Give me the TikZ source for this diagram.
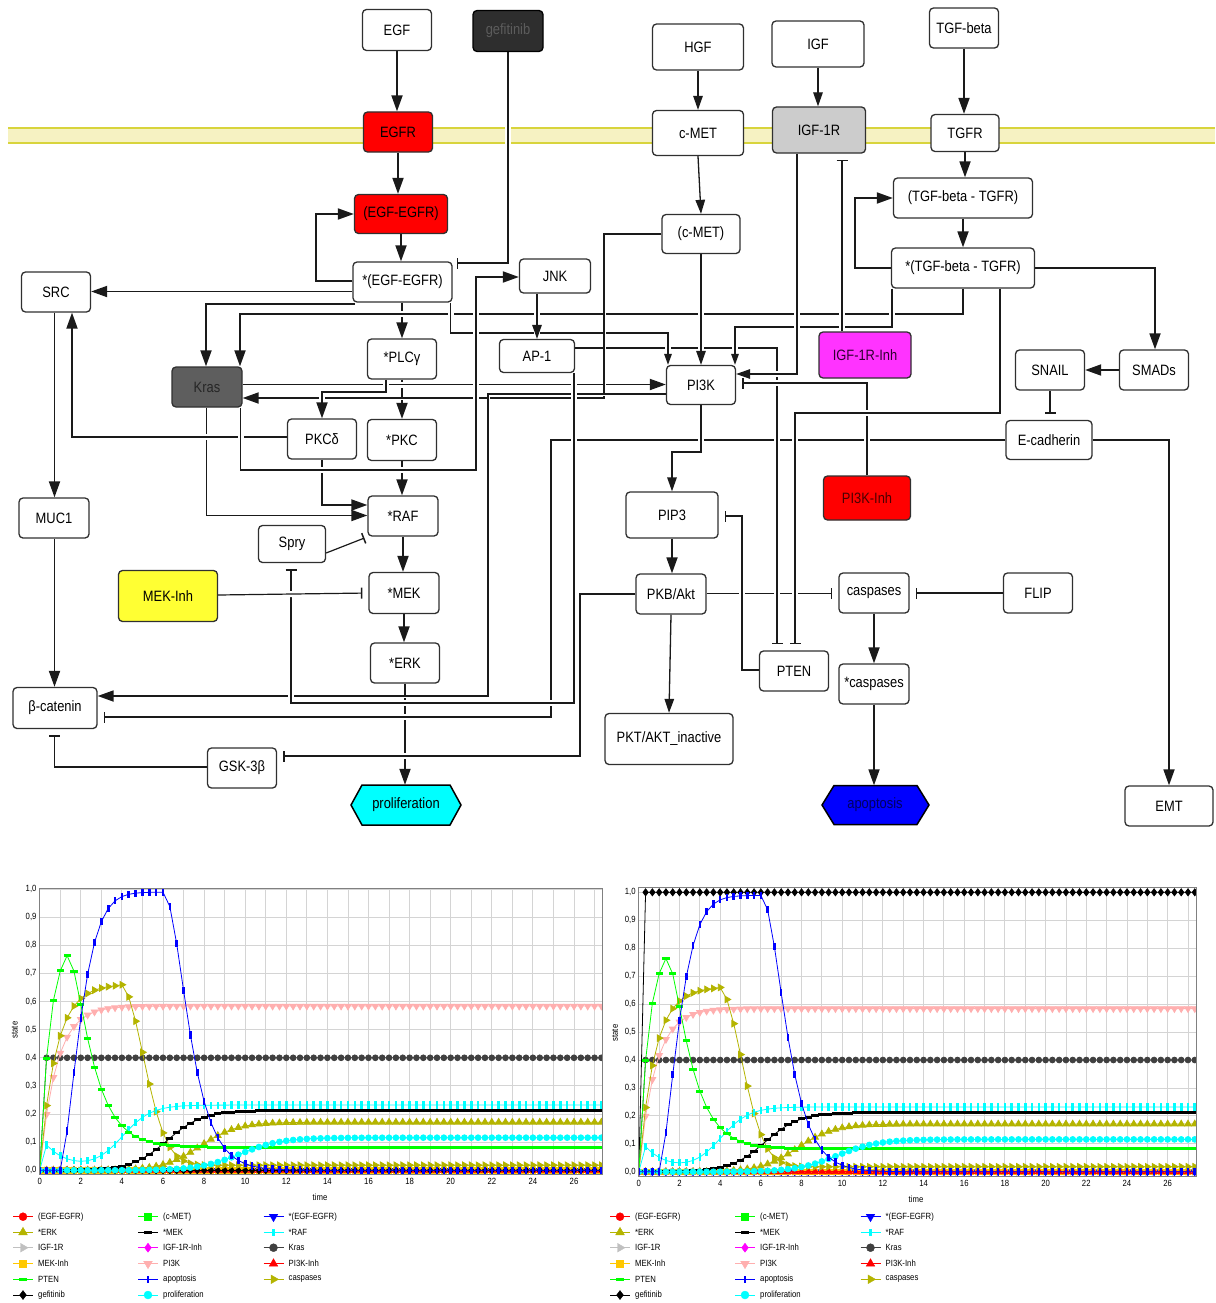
\documentclass[tikz,border=0pt]{standalone}
\usepackage{fontspec}
\setmainfont{Liberation Sans}[FakeStretch=0.86]
\usetikzlibrary{arrows.meta,plotmarks}
\pgfdeclarelayer{bg}
\pgfdeclarelayer{edges}
\pgfsetlayers{bg,edges,main}

% network colours
\definecolor{edgecol}{HTML}{1A1A1A}
\definecolor{boxline}{HTML}{303030}
\definecolor{memfill}{HTML}{F6F2C2}
\definecolor{memline}{HTML}{D8D43C}
\definecolor{gefifill}{HTML}{2E2E2E}
\definecolor{gefitext}{HTML}{5C5C5C}
\definecolor{krasfill}{HTML}{5E5E5E}
\definecolor{krastext}{HTML}{262626}
\definecolor{igffill}{HTML}{CCCCCC}
\definecolor{maginh}{HTML}{FF33FF}
\definecolor{magtext}{HTML}{300030}
\definecolor{yelinh}{HTML}{FFFF33}
\definecolor{redbox}{HTML}{FF0000}
\definecolor{redtext}{HTML}{4A0000}
\definecolor{cyanhex}{HTML}{00FFFF}
\definecolor{bluehex}{HTML}{0000FF}
\definecolor{bluetext}{HTML}{000060}
% chart colours
\definecolor{sred}{HTML}{FF0000}
\definecolor{sgreen}{HTML}{00FF00}
\definecolor{sblue}{HTML}{0000FF}
\definecolor{solive}{HTML}{B4B400}
\definecolor{sblack}{HTML}{000000}
\definecolor{scyan}{HTML}{00FFFF}
\definecolor{sgray}{HTML}{C0C0C0}
\definecolor{smag}{HTML}{FF00FF}
\definecolor{sdark}{HTML}{404040}
\definecolor{sorange}{HTML}{FFC800}
\definecolor{spink}{HTML}{FFAFAF}
\definecolor{gridcol}{HTML}{D4D4D4}
\definecolor{framecol}{HTML}{808080}

\pgfdeclareplotmark{hbar}{\pgfpathrectangle{\pgfpoint{-3.6pt}{-1.5pt}}{\pgfpoint{7.2pt}{3pt}}\pgfusepathqfill}
\pgfdeclareplotmark{vbar}{\pgfpathrectangle{\pgfpoint{-1.3pt}{-3.6pt}}{\pgfpoint{2.6pt}{7.2pt}}\pgfusepathqfill}

\newcommand\nodefont{\fontsize{15}{17}\selectfont}
\newcommand\plotfont{\fontsize{9}{10}\selectfont}
\newcommand\halow{6pt}

\tikzset{
  box/.style={draw=boxline, line width=1.3pt, rounded corners=4pt, fill=white,
    inner sep=1pt, font=\nodefont, text=black},
  sz/.style 2 args={minimum width=#1pt, minimum height=#2pt},
  hexlabel/.style={inner sep=0pt, font=\nodefont},
  link/.style={draw=edgecol, line width=1.8pt,
    preaction={draw=white, line width=\halow, -}},
  act/.style={link, -{Triangle[length=16pt,width=11pt]}},
  actm/.style={link, line width=1.3pt, -{Triangle[length=14pt,width=9.5pt]}},
  acts/.style={link, line width=1.4pt, -{Triangle[length=11pt,width=7.5pt]}},
  inh/.style={link, line width=1.5pt, -{Bar[width=11pt,line width=1.5pt]}, shorten >=6pt},
  datacurve/.style={line width=0.8pt, mark size=2.9pt},
  tri/.style={mark=triangle*, mark size=3.8pt},
  ticklab/.style={font=\plotfont, inner sep=0pt, text=black},
}

% one time series of the simulation, sampled every 1/3 time unit
\newcommand\drawseries[3]{%
  \draw[datacurve, color=#1, #2, samples at={0,0.33333,...,27.34}]
    plot[variable=\t] (\t,{#3});}

\newcommand\allcurves[1]{%
  \drawseries{sgray}{tri, mark options={rotate=-90}}{0}%
  \drawseries{smag}{mark=diamond*, mark size=3.5pt}{0}%
  \drawseries{sgreen}{mark=square*, mark size=2.8pt}{0}%
  \drawseries{sred}{mark=*}{0}%
  \drawseries{sblue}{tri, mark options={rotate=180}}{0}%
  \drawseries{sorange}{mark=square*, mark size=2.8pt}{0}%
  \drawseries{sred}{tri}{0}%
  \drawseries{sblack}{mark=diamond*, mark size=3.5pt}{#1}%
  \drawseries{sdark}{mark=*}{0.4*min(1,3*\t)}%
  \drawseries{spink}{tri, mark options={rotate=180}}{0.584*(1-dcy(\t/0.8))}%
  \drawseries{solive}{tri, mark options={rotate=-90}}%
    {ifthenelse(\t<3.8, 0.662*(1-dcy(\t/0.78)), 0.018+0.644*dcy(((\t-3.9)/1.6)^2))}%
  \drawseries{solive}{tri}{0.171*sgm((\t-7.8)/0.9)}%
  \drawseries{sblack}{mark=hbar}{0.212*sgm((\t-6.2)/0.85)}%
  \drawseries{scyan}{mark=vbar}{0.12*dcy(\t/1.1)*min(1,3*\t)+0.232*sgm((\t-4)/0.7)}%
  \drawseries{sgreen}{mark=hbar}%
    {ifthenelse(\t<1.3, 0.763*(1-dcy(\t/0.5))/0.9305, 0.082+0.681*hdec(\t-1.33333,1.05,0.657))}%
  \drawseries{scyan}{mark=*}{0.116*sgm(\t-9.75)}%
  \drawseries{sblue}{mark=vbar}%
    {ifthenelse(\t<6, 0.989*(1-dcy(pow(max(\t-1,0.001),1.5)/1.26)), 0.989*hdec(\t-6,1.3,1.326))}%
}

% chart frame, grid, tick labels and curves
% #1,#2 origin; #3,#4 units; #5,#6 bottom/top of frame; #7 name prefix; #8 gefitinib level
\newcommand\panel[8]{%
  \begin{scope}[shift={(#1,#2)}, x=#3pt, y=#4pt]
    \fill[white] (0,#5) rectangle (27.4,#6);
    \draw[gridcol, line width=0.9pt]
      \foreach \k in {1,...,27} {(\k,#5) -- (\k,#6)}
      \foreach \k in {0,...,10} {(0,\k/10) -- (27.4,\k/10)};
    \begin{scope}
      \clip (0,#5) rectangle (27.4,#6);
      \allcurves{#8}
    \end{scope}
    \draw[framecol, line width=0.9pt] (0,#5) rectangle (27.4,#6);
    \foreach \k in {0,...,9}
      \node[ticklab, anchor=east] (#7y\k) at ([xshift=-3pt]0,\k/10) {0,\k};
    \node[ticklab, anchor=east] (#7y10) at ([xshift=-3pt]0,1) {1,0};
    \foreach \k in {0,2,...,26}
      \node[ticklab, anchor=north] (#7x\k) at ([yshift=-4pt]\k,#5) {\k};
  \end{scope}}

% one legend entry: name, x, y, colour, marker keys, text
\newcommand\legitem[6]{%
  \draw[color=#4, line width=0.9pt] (#2-10,#3) -- (#2+10,#3);
  \path[color=#4, mark size=4pt, #5] plot coordinates {(#2,#3)};
  \node[anchor=west, font=\plotfont, inner sep=0pt] (#1) at (#2+15,#3) {#6};}

\newcommand\legendblock[2]{%
  \legitem{#2a}{23+#1}{1216.7}{sred}{mark=*}{(EGF-EGFR)}
  \legitem{#2b}{148+#1}{1216.7}{sgreen}{mark=square*, mark size=3.6pt}{(c-MET)}
  \legitem{#2c}{273.5+#1}{1216.7}{sblue}{mark=triangle*, mark size=5pt, mark options={rotate=180}}{*(EGF-EGFR)}
  \legitem{#2d}{23+#1}{1232.3}{solive}{mark=triangle*, mark size=5pt}{*ERK}
  \legitem{#2e}{148+#1}{1232.3}{sblack}{mark=hbar}{*MEK}
  \legitem{#2f}{273.5+#1}{1232.3}{scyan}{mark=vbar}{*RAF}
  \legitem{#2g}{23+#1}{1247.7}{sgray}{mark=triangle*, mark size=5pt, mark options={rotate=-90}}{IGF-1R}
  \legitem{#2h}{148+#1}{1247.7}{smag}{mark=diamond*, mark size=4.5pt}{IGF-1R-Inh}
  \legitem{#2i}{273.5+#1}{1247.7}{sdark}{mark=*}{Kras}
  \legitem{#2j}{23+#1}{1263.7}{sorange}{mark=square*, mark size=3.6pt}{MEK-Inh}
  \legitem{#2k}{148+#1}{1263.7}{spink}{mark=triangle*, mark size=5pt, mark options={rotate=180}}{PI3K}
  \legitem{#2l}{273.5+#1}{1263.7}{sred}{mark=triangle*, mark size=5pt}{PI3K-Inh}
  \legitem{#2m}{23+#1}{1279.3}{sgreen}{mark=hbar}{PTEN}
  \legitem{#2n}{148+#1}{1279.3}{sblue}{mark=vbar}{apoptosis}
  \legitem{#2o}{273.5+#1}{1279.3}{solive}{mark=triangle*, mark size=5pt, mark options={rotate=-90}}{caspases}
  \legitem{#2p}{23+#1}{1295}{sblack}{mark=diamond*, mark size=4.5pt}{gefitinib}
  \legitem{#2q}{148+#1}{1295}{scyan}{mark=*}{proliferation}}

\begin{document}
\begin{tikzpicture}[x=1pt, y=-1pt,
  declare function={
    sgm(\zz)=1/(1+exp(-max(-9,min(9,\zz))));
    dcy(\zz)=exp(-max(0,min(9,\zz)));
    hdec(\hd,\ha,\hb)=dcy(\ha*(sqrt(\hb*\hb+\hd*\hd)-\hb));
  }]
\useasboundingbox (0,0) rectangle (1215,1303);

\begin{pgfonlayer}{bg}
  \fill[white] (0,0) rectangle (1215,1303);
  % cell membrane
  \fill[memfill] (8,128) rectangle (1215,143);
  \draw[memline, line width=2.4pt] (8,128) -- (1215,128) (8,143) -- (1215,143);
\end{pgfonlayer}

% ---------- signalling network: species ----------
\node[box, sz={69}{41}] (EGF) at (397,30) {EGF};
\node[box, sz={70}{41}, fill=gefifill, draw=black, text=gefitext] (gefi) at (508,31) {gefitinib};
\node[box, sz={69}{40}, fill=redbox] (EGFR) at (398,132) {EGFR};
\node[box, sz={93}{39}, fill=redbox] (EE) at (401,214) {(EGF-EGFR)};
\node[box, sz={99}{40}] (sEE) at (402.5,282) {*(EGF-EGFR)};
\node[box, sz={69}{40}] (SRC) at (56,292) {SRC};
\node[box, sz={71}{34}] (JNK) at (555,276) {JNK};
\node[box, sz={75}{33}] (AP1) at (537,356) {AP-1};
\node[box, sz={69}{40}] (PLC) at (402,359) {*PLCγ};
\node[box, sz={70}{40}, fill=krasfill, text=krastext] (Kras) at (207,387) {Kras};
\node[box, sz={69}{40}] (PKCd) at (322,439) {PKCδ};
\node[box, sz={69}{41}] (PKC) at (402,440) {*PKC};
\node[box, sz={70}{40}] (RAF) at (403,516) {*RAF};
\node[box, sz={67}{37}] (Spry) at (292,544) {Spry};
\node[box, sz={99}{51}, fill=yelinh] (MEKi) at (168,596) {MEK-Inh};
\node[box, sz={70}{41}] (MEK) at (404,593) {*MEK};
\node[box, sz={69}{40}] (ERK) at (405,663) {*ERK};
\node[box, sz={70}{40}] (MUC1) at (54,518) {MUC1};
\node[box, sz={84}{41}] (bcat) at (55,708) {β-catenin};
\node[box, sz={69}{40}] (GSK) at (242,768) {GSK-3β};
\node[box, sz={91}{46}] (HGF) at (698,47) {HGF};
\node[box, sz={92}{46}] (IGF) at (818,44) {IGF};
\node[box, sz={69}{40}] (TGFb) at (964,28) {TGF-beta};
\node[box, sz={91}{45}] (cMET) at (698,133) {c-MET};
\node[box, sz={93}{46}, fill=igffill] (IGF1R) at (819,130) {IGF-1R};
\node[box, sz={68}{37}] (TGFR) at (965,133) {TGFR};
\node[box, sz={139}{40}] (TT) at (963,198) {(TGF-beta - TGFR)};
\node[box, sz={143}{40}] (sTT) at (963,268) {*(TGF-beta - TGFR)};
\node[box, sz={78}{39}] (cMETc) at (701,234) {(c-MET)};
\node[box, sz={69}{39}] (PI3K) at (701,385) {PI3K};
\node[box, sz={92}{46}, fill=maginh, text=magtext] (IGFi) at (865,355) {IGF-1R-Inh};
\node[box, sz={69}{40}] (SNAIL) at (1050,370) {SNAIL};
\node[box, sz={69}{40}] (SMAD) at (1154,370) {SMADs};
\node[box, sz={86}{39}] (Ecad) at (1049,440) {E-cadherin};
\node[box, sz={87}{44}, fill=redbox, text=redtext] (PI3Ki) at (867,498) {PI3K-Inh};
\node[box, sz={92}{46}] (PIP3) at (672,515) {PIP3};
\node[box, sz={70}{40}] (PKB) at (671,594) {PKB/Akt};
\node[box, sz={70}{40}] (casp) at (874,593) {caspases};
\node[box, sz={69}{40}] (FLIP) at (1038,593) {FLIP};
\node[box, sz={69}{40}] (PTEN) at (794,671) {PTEN};
\node[box, sz={70}{40}] (scasp) at (874,684) {*caspases};
\node[box, sz={128}{51}] (PKTi) at (669,739) {PKT/AKT\_inactive};
\node[box, sz={88}{40}] (EMT) at (1169,806) {EMT};
% phenotype outputs (hexagons)
\filldraw[fill=cyanhex, draw=black, line width=1.5pt]
  (351,805) -- (362,785) -- (450,785) -- (461,805) -- (450,825) -- (362,825) -- cycle;
\node[hexlabel, sz={110}{40}] (prolif) at (406,805) {proliferation};
\filldraw[fill=bluehex, draw=black, line width=1.5pt]
  (822,805) -- (834,785.5) -- (917,785.5) -- (929,805) -- (917,824.5) -- (834,824.5) -- cycle;
\node[hexlabel, sz={106}{39}, text=bluetext] (apop) at (875,805) {apoptosis};

% ---------- signalling network: interactions ----------
\begin{pgfonlayer}{edges}
  % drawn first: these are interrupted where later links cross them
  \draw[act] (sEE.south -| 402,0) -- (PLC.north);
  \draw[act] (PLC.south) -- (PKC.north);
  \draw[act] (ERK.south) -- (ERK.south |- prolif.north);
  \draw[act] (Kras.south -| 206.5,0) |- (RAF.west |- 0,515.5);
  \draw[act] (PKCd.south) |- (RAF.west |- 0,505);
  \draw[act] (PKC.south) -- (PKC.south |- RAF.north);
  \draw[inh] (PKB.east |- 0,593.5) -- (casp.west |- 0,593.5);
  \draw[inh] (Ecad.west) -| (551,717) -- (bcat.east |- 0,717);
  \draw[act] (sTT.south) |- (240,314) -- (Kras.north -| 240,0);
  \draw[inh] (AP1.east |- 0,348) -| (PTEN.north -| 777,0);
  \draw[acts] ([xshift=-2pt]sEE.south east) |- (668,333) -- (PI3K.north -| 668,0);
  \draw[act] (Kras.east |- 0,384.5) -- (PI3K.west |- 0,384.5);
  \draw[act] (PKCd.west |- 0,437) -| (SRC.south -| 72,0);
  \draw[inh] (PI3Ki.north -| 867,0) |- (PI3K.east |- 0,383);
  % crossing links
  \draw[acts] ([xshift=1pt]sTT.south west) |- (735,327) -- (PI3K.north -| 735,0);
  \draw[actm] (cMETc.south) -- (PI3K.north);
  {\def\halow{3pt}
   \draw[act] (cMETc.west) -| (604,398) -- (Kras.east |- 0,398);
   \draw[act] (PI3K.west |- 0,394) -| (488,696) -- (bcat.east |- 0,696);}
  \draw[act] (Kras.south -| 240.5,0) |- (476,470) |- (JNK.west |- 0,277);
  \draw[inh] (AP1.south -| 574,0) |- (291,703) -- (Spry.south -| 291,0);
  \draw[act] (PLC.south -| 386,0) |- (322,392) -- (PKCd.north -| 322,0);
  \draw[inh] (PKB.west |- 0,594) -| (580,756) -- (GSK.east |- 0,756);
  \draw[actm] (IGF1R.south -| 797,0) |- (PI3K.east |- 0,374);
  \draw[inh] (IGFi.north -| 842,0) -- (IGF1R.south -| 842,0);
  \draw[actm] (PI3K.south) |- (672,452) -- (PIP3.north -| 672,0);
  \draw[inh] (sTT.south -| 1000,0) |- (795,413) -- (PTEN.north -| 795,0);
  \draw[inh] (PTEN.west |- 0,670) -| (742,516) -- (PIP3.east |- 0,516);
  % remaining links
  \draw[act] (EGF.south) -- (EGF.south |- EGFR.north);
  \draw[act] (EGFR.south) -- (EGFR.south |- EE.north);
  \draw[act] (EE.south) -- (EE.south |- sEE.north);
  \draw[act] (sEE.west |- 0,281) -| (316,214) -- (EE.west);
  \draw[inh, shorten >=4pt] (gefi.south) |- (sEE.east |- 0,263);
  \draw[act] (sEE.west |- 0,291.5) -- (SRC.east |- 0,291.5);
  \draw[act] ([xshift=2pt]sEE.south west) |- (206,304) -- (Kras.north -| 206,0);
  \draw[actm] (JNK.south -| 537,0) -- (AP1.north -| 537,0);
  \draw[act] (SRC.south -| 54.5,0) -- (MUC1.north -| 54.5,0);
  \draw[act] (MUC1.south -| 54.5,0) -- (bcat.north -| 54.5,0);
  \draw[inh] (GSK.west |- 0,767) -| (bcat.south -| 54.5,0);
  \draw[inh, line width=1.2pt, shorten >=1pt] (Spry.east |- 0,553) -- ([shift={(-2pt,-1pt)}]RAF.south west);
  \draw[inh, line width=1.2pt] (MEKi.east |- 0,595) -- (MEK.west |- 0,593);
  \draw[act] (RAF.south) -- (RAF.south |- MEK.north);
  \draw[act] (MEK.south) -- (MEK.south |- ERK.north);
  \draw[actm] (HGF.south) -- (HGF.south |- cMET.north);
  \draw[actm] (IGF.south) -- (IGF.south |- IGF1R.north);
  \draw[act] (TGFb.south) -- (TGFb.south |- TGFR.north);
  \draw[actm] (cMET.south) -- (cMETc.north);
  \draw[act] (TGFR.south) -- (TGFR.south |- TT.north);
  \draw[act] (TT.south) -- (TT.south |- sTT.north);
  \draw[act] (sTT.west) -| (855,198) -- (TT.west);
  \draw[act] (sTT.east) -| (SMAD.north -| 1155,0);
  \draw[act] (SMAD.west) -- (SNAIL.east);
  \draw[inh] (SNAIL.south) -- (Ecad.north -| SNAIL.south);
  \draw[act] (Ecad.east) -| (EMT.north -| 1169,0);
  \draw[act] (PIP3.south) -- (PIP3.south |- PKB.north);
  \draw[actm] (PKB.south) -- (PKTi.north);
  \draw[inh] (FLIP.west) -- (casp.east);
  \draw[act] (casp.south) -- (casp.south |- scasp.north);
  \draw[act] (scasp.south) -- (scasp.south |- apop.north);
\end{pgfonlayer}

% ---------- simulation charts ----------
\panel{39.7}{1170.3}{20.55}{281.3}{-0.013}{1.003}{L}{0}
\node[font=\plotfont, rotate=90] (Lstate) at (14.8,1030) {state};
\node[font=\plotfont] (Ltime) at (320,1197) {time};
\legendblock{0}{L}

\panel{638.8}{1171.8}{20.34}{279.5}{-0.015}{1.016}{R}{min(1,3*\t)}
\node[font=\plotfont, rotate=90] (Rstate) at (615,1033) {state};
\node[font=\plotfont] (Rtime) at (916,1199) {time};
\legendblock{597}{R}
\end{tikzpicture}
\end{document}
